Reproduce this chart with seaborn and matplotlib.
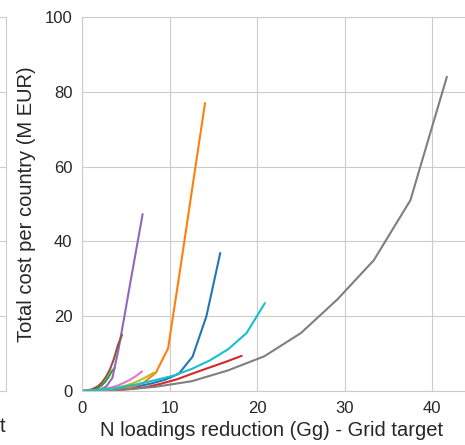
import pandas as pd
import seaborn as sns
import matplotlib.pyplot as plt

# N loadings reduction (Gg) and total cost (M EUR), one series per country
red_c0 = [0, 1.58, 3.16, 4.74, 6.32, 7.9, 9.48, 11.06, 12.64, 14.22, 15.8]
cost_c0 = [0, 0.1, 0.3, 0.7, 1.2, 2.0, 3.0, 4.6, 9.2, 20.0, 36.9]
red_c1 = [0, 1.41, 2.81, 4.22, 5.62, 7.03, 8.44, 9.84, 11.25, 12.65, 14.06]
cost_c1 = [0, 0.05, 0.2, 0.5, 1.0, 2.2, 4.9, 11.4, 33.0, 55.0, 77.0]
red_c2 = [0, 0.38, 0.75, 1.13, 1.5, 1.88, 2.25, 2.63, 3.0, 3.38, 3.75]
cost_c2 = [0, 0.02, 0.1, 0.25, 0.5, 0.9, 1.5, 2.4, 3.6, 5.2, 6.2]
red_c3 = [0, 1.83, 3.65, 5.48, 7.3, 9.13, 10.95, 12.78, 14.6, 16.43, 18.25]
cost_c3 = [0, 0.05, 0.2, 0.5, 1.0, 2.0, 3.2, 4.8, 6.3, 7.8, 9.4]
red_c4 = [0, 0.69, 1.39, 2.08, 2.77, 3.47, 4.16, 4.85, 5.54, 6.24, 6.93]
cost_c4 = [0, 0.02, 0.1, 0.4, 1.2, 3.5, 11.0, 20.0, 29.2, 38.3, 47.3]
red_c5 = [0, 0.46, 0.91, 1.37, 1.83, 2.29, 2.74, 3.2, 3.66, 4.11, 4.57]
cost_c5 = [0, 0.1, 0.3, 0.7, 1.3, 2.3, 3.8, 5.8, 8.7, 12.3, 15.0]
red_c6 = [0, 0.69, 1.37, 2.06, 2.74, 3.43, 4.12, 4.8, 5.49, 6.17, 6.86]
cost_c6 = [0, 0.05, 0.15, 0.35, 0.6, 1.0, 1.5, 2.2, 3.0, 4.0, 5.2]
red_c7 = [0, 4.17, 8.34, 12.51, 16.68, 20.85, 25.02, 29.19, 33.36, 37.53, 41.7]
cost_c7 = [0, 0.3, 1.1, 2.6, 5.5, 9.3, 15.5, 24.5, 35.0, 51.0, 84.0]
red_c8 = [0, 0.82, 1.64, 2.46, 3.28, 4.1, 4.92, 5.74, 6.56, 7.38, 8.2]
cost_c8 = [0, 0.05, 0.15, 0.3, 0.55, 0.9, 1.4, 2.0, 2.8, 3.8, 4.9]
red_c9 = [0, 2.09, 4.18, 6.27, 8.36, 10.45, 12.54, 14.63, 16.72, 18.81, 20.9]
cost_c9 = [0, 0.3, 0.9, 1.8, 2.9, 4.1, 5.9, 8.2, 11.2, 15.5, 23.5]

reductions = [red_c0, red_c1, red_c2, red_c3, red_c4,
              red_c5, red_c6, red_c7, red_c8, red_c9]
costs = [cost_c0, cost_c1, cost_c2, cost_c3, cost_c4,
         cost_c5, cost_c6, cost_c7, cost_c8, cost_c9]
countries = ["country_{}".format(i) for i in range(len(costs))]

frames = []
for name, xs, ys in zip(countries, reductions, costs):
    frames.append(pd.DataFrame({"country": name, "reduction": xs, "cost": ys}))
df = pd.concat(frames, ignore_index=True)

sns.set_style("whitegrid")
plt.rcParams['font.family'] = ['Liberation Sans', 'DejaVu Sans']

fig = plt.figure(figsize=(4.65, 4.45), dpi=100)
# neighbouring panel, only its right edge is visible
ax_left = fig.add_axes([-0.5, 54 / 445, 0.5 + 6 / 465, 374 / 445])
ax = fig.add_axes([82 / 465, 54 / 445, 390 / 465, 374 / 445])

ax_left.set_xlim(0, 1)
ax_left.set_ylim(0, 100)
ax_left.set_xticks([])
ax_left.set_yticks([0, 20, 40, 60, 80, 100])
ax_left.set_yticklabels([])
fig.text(5.5 / 465, 18 / 445, "t", ha='right', va='center',
         fontsize=14.5, color='.15')

sns.lineplot(data=df, x="reduction", y="cost", hue="country",
             palette=sns.color_palette("tab10", 10), estimator=None,
             sort=False, legend=False, linewidth=1.5, ax=ax)
ax.set_xlim(0, 390 / 8.75)
ax.set_ylim(0, 100)
ax.set_xticks([0, 10, 20, 30, 40])
ax.set_yticks([0, 20, 40, 60, 80, 100])
ax.tick_params(labelsize=12)
ax.set_xlabel("N loadings reduction (Gg) - Grid target", fontsize=14.5)
ax.xaxis.label.set_x((272 - 82) / 390)
ax.set_ylabel("Total cost per country (M EUR)", fontsize=14.5, labelpad=6)

plt.savefig("out.png", dpi=100)
